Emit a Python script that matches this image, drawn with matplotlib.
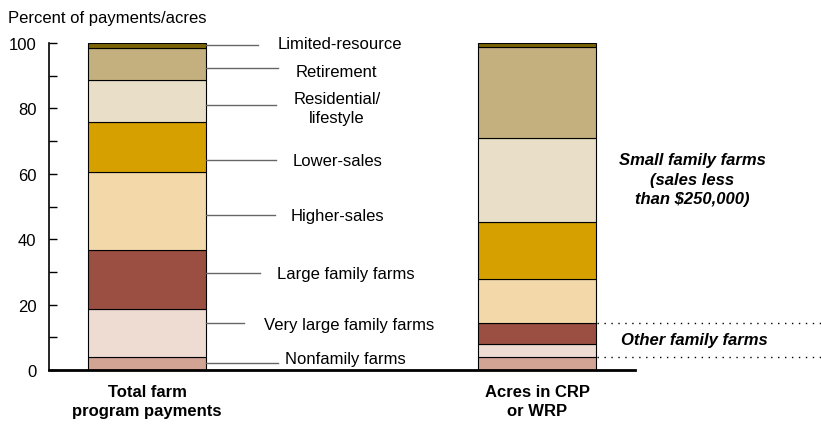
import matplotlib
matplotlib.use("Agg")
import matplotlib.pyplot as plt
import numpy as np

plt.rcParams['font.family'] = ['Liberation Sans', 'DejaVu Sans']

# ---- data ----
bars = ["Total farm\nprogram payments", "Acres in CRP\nor WRP"]
categories = ["Nonfamily farms", "Very large family farms", "Large family farms",
              "Higher-sales", "Lower-sales", "Residential/\nlifestyle",
              "Retirement", "Limited-resource"]
payments = [3.9, 14.8, 17.9, 24.0, 15.2, 13.0, 9.8, 1.4]
acres = [4.0, 4.0, 6.4, 13.5, 17.5, 25.6, 27.7, 1.3]
colors = ["#d1a493", "#eedcd2", "#9a4f42", "#f3d8aa", "#d5a000",
          "#e9dfc8", "#c4b07e", "#7a6405"]
yticks = [0, 20, 40, 60, 80, 100]

# ---- layout (label placement, axes fractions / data y) ----
label_x = [0.505, 0.5116, 0.5068, 0.493, 0.4923, 0.4915, 0.491, 0.4957]
label_y = [3.4, 13.8, 29.4, 47.2, 64.0, 80.2, 91.3, 99.7]
line_y = [2.1, 14.3, 29.6, 47.4, 64.3, 81.0, 92.3, 99.5]
line_end = [0.3908, 0.3328, 0.3601, 0.3857, 0.3874, 0.3874, 0.3913, 0.3567]

W, H = 821, 427
fig = plt.figure(figsize=(W / 100, H / 100), dpi=100)
ax = fig.add_axes([49 / W, (H - 371) / H, 586 / W, 327 / H])

x = np.arange(len(bars))
width = 0.302
series = np.array([payments, acres])
bottom = np.zeros(len(bars))
for i, c in enumerate(categories):
    ax.bar(x, series[:, i], width, bottom=bottom, color=colors[i],
           edgecolor="black", linewidth=0.8, zorder=2)
    bottom += series[:, i]

ax.set_xlim(-0.251, 1.25)
ax.set_ylim(0, 100)

for s in ["top", "right"]:
    ax.spines[s].set_visible(False)
ax.spines["left"].set_linewidth(1.2)
ax.spines["bottom"].set_linewidth(2.0)

ax.set_yticks(yticks)
ax.set_yticks([10, 30, 50, 70, 90], minor=True)
ax.tick_params(axis="y", which="both", direction="in", length=6, width=1.0,
               labelsize=12, pad=9)
ax.set_xticks(x)
ax.set_xticklabels(bars, fontsize=12, fontweight="bold", linespacing=1.35)
ax.tick_params(axis="x", length=0, pad=10)

fig.text(8 / W, 1 - 18 / H, "Percent of payments/acres", fontsize=12,
         ha="left", va="center")

# leader lines and labels for left bar
trans = ax.get_yaxis_transform()
bar_right = 0.268
for i, c in enumerate(categories):
    ax.plot([bar_right, line_end[i]], [line_y[i], line_y[i]], color="#666666",
            lw=1.0, transform=trans, clip_on=False, zorder=3)
    ax.text(label_x[i], label_y[i], c, transform=trans, ha="center",
            va="center", fontsize=12, linespacing=1.35)

# dotted group lines for right bar
cum = np.cumsum(acres)
for yv in [cum[0], cum[2]]:
    ax.plot([0.935, 1.317], [yv, yv], color="black", lw=1.0,
            linestyle=(0, (1, 4)), transform=trans, clip_on=False)

ax.text(1.0973, 58.4, "Small family farms\n(sales less\nthan $250,000)",
        transform=trans, ha="center", va="center", fontsize=12,
        fontweight="bold", fontstyle="italic", linespacing=1.4)
ax.text(1.1015, (cum[0] + cum[2]) / 2, "Other family farms", transform=trans,
        ha="center", va="center", fontsize=12, fontweight="bold",
        fontstyle="italic")

fig.savefig("out.png", dpi=100)
